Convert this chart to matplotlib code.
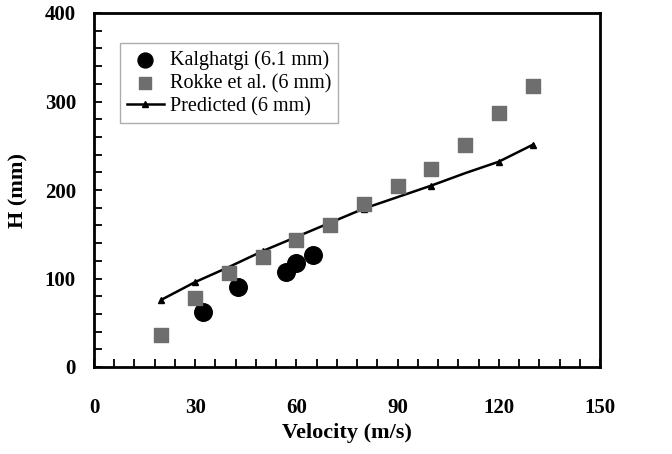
import matplotlib
matplotlib.use("Agg")
import matplotlib.pyplot as plt
from matplotlib.ticker import MultipleLocator

kal_v = [32.2, 42.8, 57, 59.8, 64.9]
kal_h = [62, 90, 107, 117, 126]

rok_v = [20, 30, 40, 50, 60, 70, 80, 90, 100, 110, 120, 130]
rok_h = [36, 78, 106, 124, 143, 161, 184, 205, 224, 251, 287, 317]

pred_v = [20, 30, 40, 50, 60, 70, 80, 90, 100, 110, 120, 130]
pred_h = [76, 96, 113, 131, 147, 163, 179, 192, 205, 219, 232, 251]
pred_marked = [0, 1, 3, 6, 8, 10, 11]

plt.rcParams['font.family'] = ['Liberation Serif', 'DejaVu Serif']

fig = plt.figure(figsize=(6.72, 4.54), dpi=100)
ax = fig.add_axes([94/672, 1-367/454, 506/672, 354/454])

ax.plot(pred_v, pred_h, color='black', lw=1.8, marker='^', markersize=5,
        markevery=pred_marked, label='Predicted (6 mm)', zorder=2)
ax.scatter(kal_v, kal_h, marker='o', s=160, color='black',
           label='Kalghatgi (6.1 mm)', zorder=3)
ax.scatter(rok_v, rok_h, marker='s', s=110, color='#6e6e6e',
           label='Rokke et al. (6 mm)', zorder=3)

ax.set_xlim(0, 150)
ax.set_ylim(0, 400)
ax.xaxis.set_major_locator(MultipleLocator(30))
ax.xaxis.set_minor_locator(MultipleLocator(6))
ax.yaxis.set_major_locator(MultipleLocator(100))
ax.yaxis.set_minor_locator(MultipleLocator(20))
ax.tick_params(which='both', direction='in', top=False, right=False, width=1.3)
ax.tick_params(which='major', length=6, labelsize=15)
ax.tick_params(axis='x', which='major', pad=22)
ax.tick_params(axis='y', which='major', pad=13)
ax.tick_params(which='minor', length=6)
for lab in ax.get_xticklabels() + ax.get_yticklabels():
    lab.set_fontweight('bold')
for s in ax.spines.values():
    s.set_linewidth(2)

ax.set_xlabel('Velocity (m/s)', fontsize=16, fontweight='bold', labelpad=4)
ax.set_ylabel('H (mm)', fontsize=16, fontweight='bold', labelpad=12)

h, l = ax.get_legend_handles_labels()
order = [1, 2, 0]
leg = ax.legend([h[i] for i in order], [l[i] for i in order],
                loc='upper left', bbox_to_anchor=(0.052, 0.915),
                borderaxespad=0,
                fontsize=14.5, frameon=True, fancybox=False,
                edgecolor='#999999', handlelength=1.8, handletextpad=0.3,
                borderpad=0.35, labelspacing=0.2, markerscale=0.85)
leg.get_frame().set_linewidth(1)

fig.savefig('out.png', dpi=100)
